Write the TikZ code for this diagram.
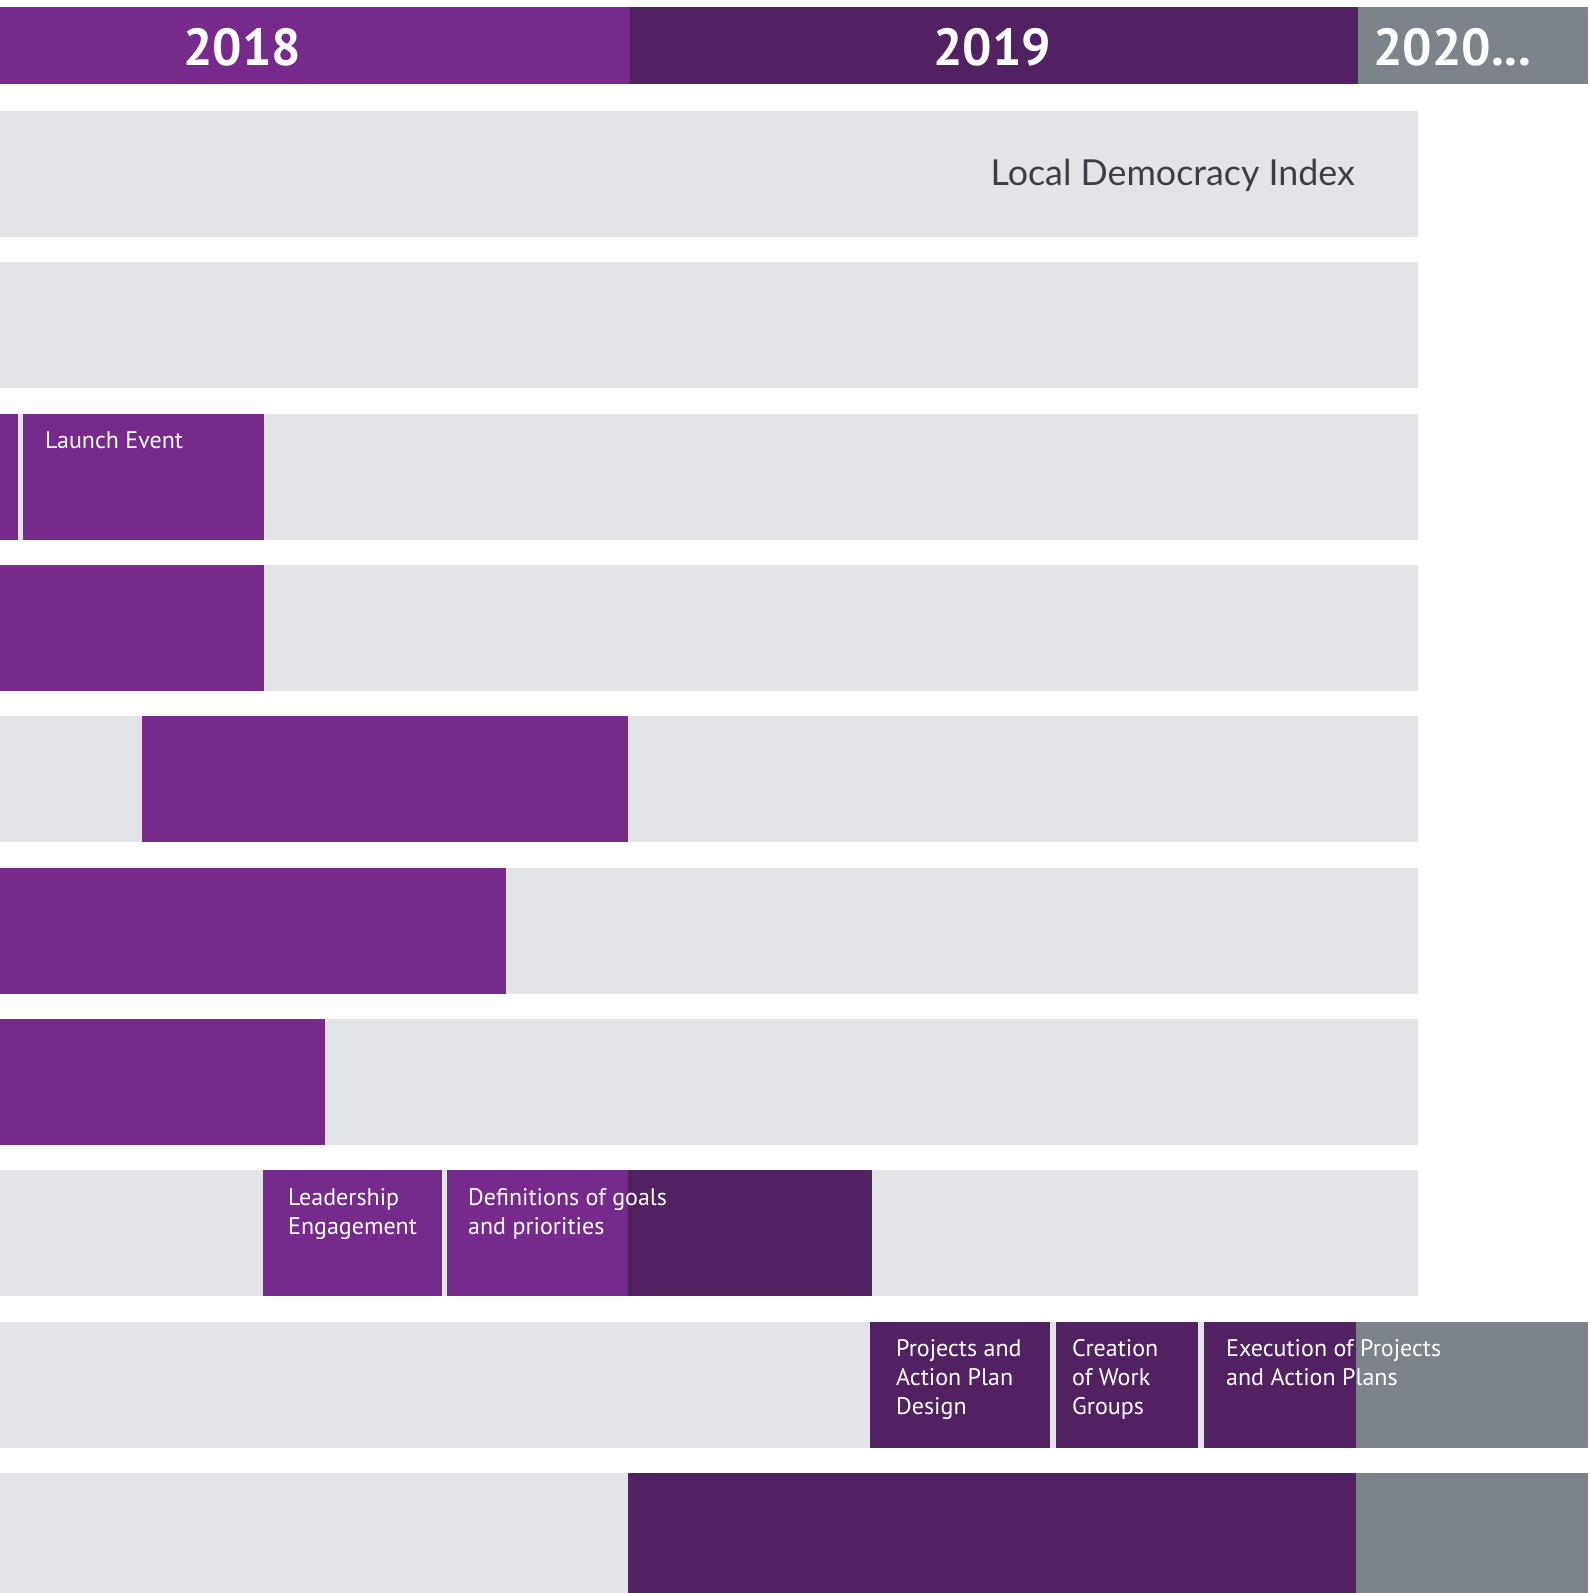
\documentclass[tikz,border=0pt]{standalone}
\usepackage{fontspec}
\setmainfont{PT Sans}
\newfontfamily\ldifont{Lato}
\definecolor{cPurple}{HTML}{762A8C}
\definecolor{cDark}{HTML}{522162}
\definecolor{cGray}{HTML}{7C838B}
\definecolor{cLight}{HTML}{E3E4E8}
\definecolor{cText}{HTML}{3A3F46}
\tikzset{
  yearlbl/.style={inner sep=0pt, anchor=base west, text=white, font=\fontsize{52}{60}\selectfont\bfseries},
  barlbl/.style={inner sep=0pt, anchor=base west, text=white, align=left, font=\fontsize{24}{29}\selectfont},
}
\begin{document}
\begin{tikzpicture}[x=1pt,y=-1pt]
\useasboundingbox (0,0) rectangle (1588,1593);
\fill[white] (0,0) rectangle (1588,1593);
% header
\fill[cPurple] (0,7) rectangle (630,84);
\fill[cDark] (630,7) rectangle (1358,84);
\fill[cGray] (1358,7) rectangle (1588,84);
\node[yearlbl] (t2018) at (183,65) {2018};
\node[yearlbl] (t2019) at (933,65) {2019};
\node[yearlbl] (t2020) at (1373,65) {2020...};
% row backgrounds
\foreach \t in {111,262,413.5,565,716,868,1019,1170,1322}
  \fill[cLight] (0,\t) rectangle (1418,\t+126);
\fill[cLight] (0,1473) rectangle (1418,1593);
% row 1
\node[inner sep=0pt, anchor=base east, text=cText, font=\ldifont\fontsize{35.8}{40}\selectfont] (lLDI) at (1355,185) {Local Democracy Index};
% row 3
\fill[cPurple] (0,413.5) rectangle (18.3,539.5);
\fill[cPurple] (23.3,413.5) rectangle (264,539.5);
\node[barlbl] (lLaunch) at (45,448.5) {Launch Event};
% row 4
\fill[cPurple] (0,565) rectangle (264,691);
% row 5
\fill[cPurple] (142,716) rectangle (628,842);
% row 6
\fill[cPurple] (0,868) rectangle (506,994);
% row 7
\fill[cPurple] (0,1019) rectangle (325,1145);
% row 8
\fill[cPurple] (262.5,1170) rectangle (441.5,1296);
\fill[cPurple] (446.7,1170) rectangle (628,1296);
\fill[cDark] (628,1170) rectangle (871.5,1296);
\node[barlbl] (lLeader) at (288,1234.5) {Leadership\\Engagement};
\node[barlbl] (lDefs) at (468,1234.5) {Definitions of goals\\and priorities};
% row 9
\fill[cDark] (870,1322) rectangle (1050,1448);
\fill[cDark] (1055.5,1322) rectangle (1198,1448);
\fill[cDark] (1203.5,1322) rectangle (1356,1448);
\fill[cGray] (1356,1322) rectangle (1588,1448);
\node[barlbl] (lProj) at (896,1414) {Projects and\\Action Plan\\Design};
\node[barlbl] (lCreate) at (1072,1414) {Creation\\of Work\\Groups};
\node[barlbl] (lExec) at (1226,1385) {Execution of Projects\\and Action Plans};
% row 10
\fill[cDark] (628,1473) rectangle (1356,1593);
\fill[cGray] (1356,1473) rectangle (1588,1593);
\end{tikzpicture}
\end{document}
